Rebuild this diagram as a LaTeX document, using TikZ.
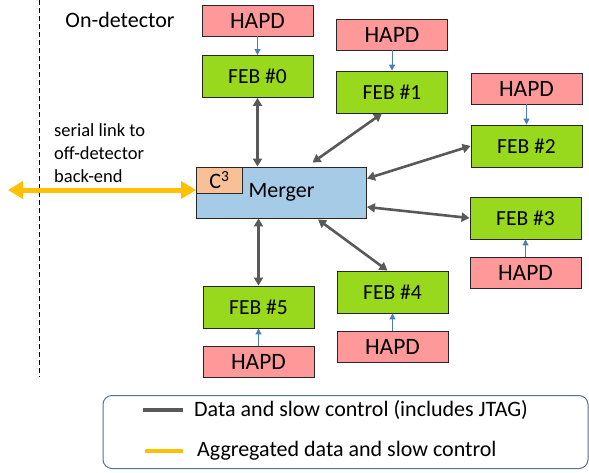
\documentclass[tikz,border=0pt]{standalone}
\usepackage{fontspec}
\setmainfont{Carlito}
\usetikzlibrary{arrows.meta}

\definecolor{hapdpink}{RGB}{255,153,153}
\definecolor{febgreen}{RGB}{152,217,30}
\definecolor{mergerblue}{RGB}{166,203,230}
\definecolor{cubepeach}{RGB}{247,192,150}
\definecolor{dcgray}{RGB}{89,89,89}
\definecolor{aggyellow}{RGB}{255,192,0}
\definecolor{sigblue}{RGB}{74,126,187}
\definecolor{legendframe}{RGB}{84,112,148}

\begin{document}
\begin{tikzpicture}[x=1pt,y=-1pt,
    box/.style={draw=black!85, line width=0.9pt, inner sep=0pt},
    hapd/.style={box, fill=hapdpink, minimum width=111pt, minimum height=31pt, font=\fontsize{23.5}{26}\selectfont},
    feb/.style={box, fill=febgreen, minimum width=111pt, minimum height=42pt, font=\fontsize{21.5}{24}\selectfont},
    dc/.style={draw=dcgray, line width=2.6pt, {Triangle[length=8pt,width=9pt]}-{Triangle[length=8pt,width=9pt]}},
    sig/.style={draw=sigblue, line width=1pt, -{Triangle[length=6pt,width=6pt]}},
    agg/.style={draw=aggyellow, line width=5pt, {Triangle[length=15pt,width=17pt]}-{Triangle[length=15pt,width=17pt]}}]
  \def\rowfont{\fontsize{22}{26}\selectfont}

  \useasboundingbox (0,0) rectangle (589,472);

  % boundary of the detector
  \draw[line width=0.8pt, dash pattern=on 5pt off 3pt] (39,0) -- (39,377);
  \node[font=\rowfont] (ondet) at (120,20) {On-detector};
  \node[anchor=west, align=left, inner sep=0pt, font=\fontsize{18.5}{23}\selectfont] (serial) at (54,153) {serial link to\\off-detector\\back-end};

  % front-end boards and their HAPDs
  \node[hapd] (hapd0) at (257.5,20.5) {HAPD};
  \node[feb]  (feb0)  at (257.5,76.5) {FEB \#0};
  \node[hapd] (hapd1) at (392,34.5) {HAPD};
  \node[feb]  (feb1)  at (392,92) {FEB \#1};
  \node[hapd] (hapd2) at (526.5,88.5) {HAPD};
  \node[feb]  (feb2)  at (526.5,146) {FEB \#2};
  \node[feb]  (feb3)  at (525.5,218) {FEB \#3};
  \node[hapd] (hapd3) at (525.5,272.5) {HAPD};
  \node[feb]  (feb4)  at (392.5,292) {FEB \#4};
  \node[hapd] (hapd4) at (392.5,346.5) {HAPD};
  \node[feb]  (feb5)  at (258.5,307) {FEB \#5};
  \node[hapd] (hapd5) at (258.5,361.5) {HAPD};

  % merger board
  \node[box, fill=mergerblue, minimum width=170pt, minimum height=51pt, font=\rowfont] (merger) at (281.5,192.5) {Merger};
  \node[box, fill=cubepeach, anchor=north west, minimum width=46pt, minimum height=26pt, font=\rowfont] (cube) at (merger.north west) {C\textsuperscript{3}};

  \draw[sig] (hapd0) -- (feb0);
  \draw[sig] (hapd1) -- (feb1);
  \draw[sig] (hapd2) -- (feb2);
  \draw[sig] (hapd3) -- (feb3);
  \draw[sig] (hapd4) -- (feb4);
  \draw[sig] (hapd5) -- (feb5);

  \draw[dc] (feb0.south) -- (feb0.south |- merger.north);
  \draw[dc] ([xshift=-10pt]feb1.south) -- ([xshift=31pt,yshift=4pt]merger.north);
  \draw[dc] (feb2.west) -- ([yshift=14pt]merger.east);
  \draw[dc] (feb3.west) -- ([yshift=-14.5pt]merger.east);
  \draw[dc] ([xshift=-5pt]feb4.north) -- ([xshift=36.5pt,yshift=-1pt]merger.south);
  \draw[dc] (feb5.north) -- (feb5.north |- merger.south);

  \coordinate (backend) at (8,190);
  \draw[agg] (backend) -- (backend -| merger.west);

  % legend
  \node[draw=legendframe, line width=1pt, rounded corners=9pt, minimum width=485pt, minimum height=73pt] (legend) at (345.5,432) {};
  \node[anchor=west, inner sep=0pt, font=\rowfont] (dclabel) at (194,410) {Data and slow control (includes JTAG)};
  \node[anchor=west, inner sep=0pt, font=\rowfont] (agglabel) at (197,451) {Aggregated data and slow control};
  \coordinate (dckey) at (143,410);
  \coordinate (aggkey) at (145,451);
  \draw[dcgray, line width=4.5pt] (dckey) -- ([xshift=-11pt]dclabel.west);
  \draw[aggyellow, line width=4pt] (aggkey) -- ([xshift=-14pt]agglabel.west);
\end{tikzpicture}
\end{document}
